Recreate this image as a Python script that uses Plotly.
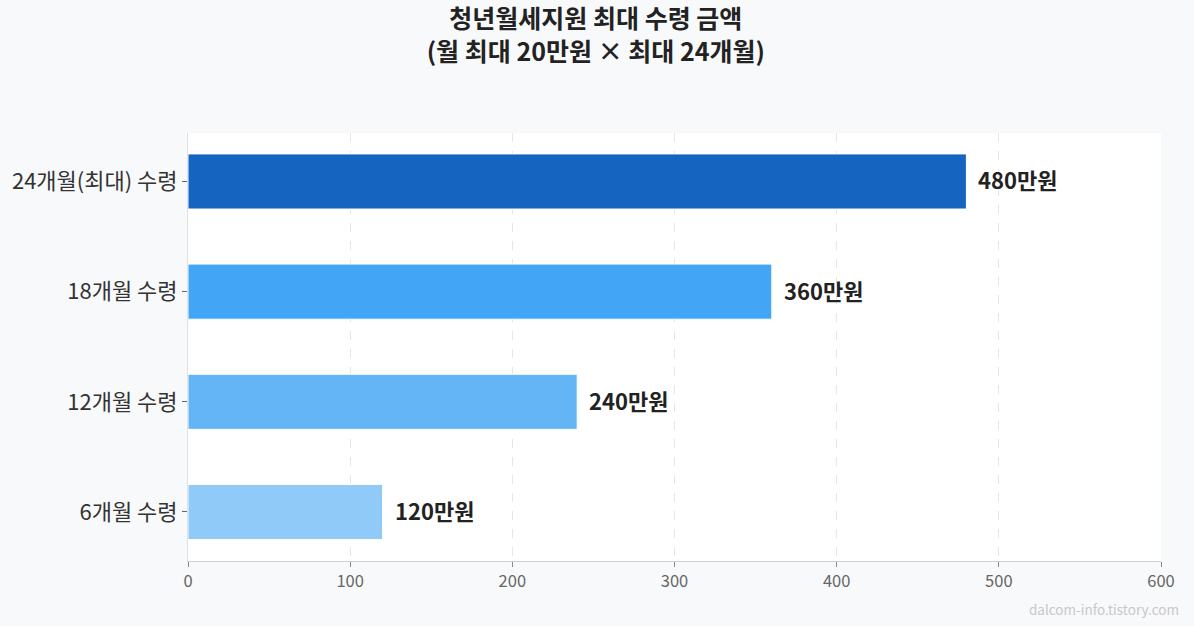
import plotly.graph_objects as go

categories = ["6개월 수령", "12개월 수령", "18개월 수령", "24개월(최대) 수령"]
values = [120, 240, 360, 480]
labels = ["120만원", "240만원", "360만원", "480만원"]
colors = ["#90CAF9", "#64B5F6", "#42A5F5", "#1565C0"]
x_ticks = [0, 100, 200, 300, 400, 500, 600]

FONT = "Noto Sans CJK KR"

fig = go.Figure()
fig.add_trace(go.Bar(
    x=values, y=categories, orientation="h",
    marker=dict(color=colors, line=dict(color="white", width=1)),
    width=0.5, hoverinfo="skip",
))

for v, c, t in zip(values, categories, labels):
    fig.add_annotation(
        x=v, y=c, text=t, showarrow=False, xanchor="left", xshift=10, yshift=2,
        font=dict(family=FONT, size=22, color="#222222", weight=700),
    )

fig.add_annotation(
    text="dalcom-info.tistory.com", xref="paper", yref="paper",
    x=1.021, y=-0.085, xanchor="right", yanchor="top", showarrow=False,
    font=dict(family=FONT, size=13.5, color="#c8c8c8"),
)

fig.update_layout(
    width=1194, height=626,
    margin=dict(l=186, r=33, t=133, b=65),
    paper_bgcolor="#f8f9fa", plot_bgcolor="white",
    title=dict(
        text="청년월세지원 최대 수령 금액<br>(월 최대 20만원 × 최대 24개월)",
        x=0.499, xref="container", xanchor="center", y=0.955, yanchor="top",
        font=dict(family=FONT, size=25, color="#222222", weight=700),
    ),
    showlegend=False,
    bargap=0.5,
)
fig.update_xaxes(
    range=[0, 600], tickvals=x_ticks, showgrid=True,
    gridcolor="#e6e6e6", griddash="dash", gridwidth=1,
    showline=True, linecolor="#d0d0d0", linewidth=1,
    ticks="outside", tickcolor="#888888", ticklen=5,
    tickfont=dict(family=FONT, size=16.5, color="#666666"),
    zeroline=False,
)
fig.update_yaxes(
    range=[-0.445, 3.44], showgrid=False,
    showline=True, linecolor="#e0e0e0", linewidth=1,
    ticks="outside", tickcolor="#666666", ticklen=5,
    tickfont=dict(family=FONT, size=22, color="#333333"),
)

fig.write_html(
    "out.html",
    config={"displayModeBar": False},
    post_script="document.body.style.margin='0';document.body.style.overflow='hidden';",
)
